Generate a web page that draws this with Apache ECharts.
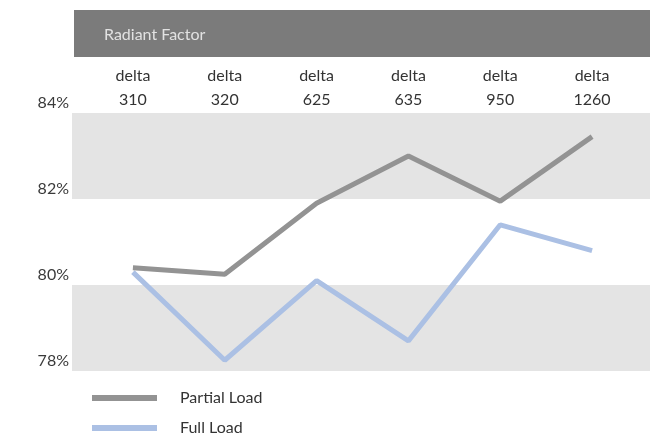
<!DOCTYPE html>
<html>
<head>
<meta charset="utf-8">
<script src="https://cdn.jsdelivr.net/npm/echarts@6/dist/echarts.min.js"></script>
<style>
  html, body { margin: 0; padding: 0; background: #fff; }
  #chart { width: 671px; height: 441px; }
</style>
</head>
<body>
<div id="chart"></div>
<script>
// data
const categories = ['delta\n310', 'delta\n320', 'delta\n625', 'delta\n635', 'delta\n950', 'delta\n1260'];
const partialLoad = [80.4, 80.25, 81.9, 83.0, 81.95, 83.45];
const fullLoad = [80.3, 78.25, 80.1, 78.7, 81.4, 80.8];
const seriesNames = ['Partial Load', 'Full Load'];

const FONT = 'Lato, "DejaVu Sans", sans-serif';

const chart = echarts.init(document.getElementById('chart'));

const option = {
    backgroundColor: '#fff',
    animation: false,
    graphic: [
        {
            type: 'rect',
            shape: { x: 74, y: 10, width: 576, height: 47 },
            style: { fill: '#7b7b7b' },
            z: 0
        }
    ],
    title: {
        text: 'Radiant Factor',
        left: 99,
        top: 22,
        textStyle: { color: '#e2e2e2', fontSize: 16, fontWeight: 'normal', fontFamily: FONT }
    },
    grid: [
        // background bands
        { left: 72, right: 21, top: 113, bottom: 70 },
        // lines
        { left: 87, right: 33, top: 113, bottom: 70 }
    ],
    xAxis: [
        { gridIndex: 0, type: 'value', show: false, min: 0, max: 1 },
        {
            gridIndex: 1,
            type: 'category',
            data: categories,
            position: 'top',
            boundaryGap: true,
            axisLine: { show: false },
            axisTick: { show: false },
            axisLabel: {
                color: '#333',
                fontSize: 16,
                fontFamily: FONT,
                lineHeight: 24,
                margin: 1
            }
        }
    ],
    yAxis: [
        {
            gridIndex: 0,
            type: 'value',
            min: 78,
            max: 84,
            interval: 2,
            axisLine: { show: false },
            axisTick: { show: false },
            splitLine: { show: false },
            splitArea: { show: true, areaStyle: { color: ['#e4e4e4', '#ffffff'] } },
            axisLabel: {
                formatter: '{value}%',
                color: '#3a3a3a',
                fontSize: 16,
                fontFamily: FONT,
                verticalAlign: 'bottom',
                padding: [0, 0, 2, 0],
                margin: 3
            }
        },
        {
            gridIndex: 1,
            type: 'value',
            min: 78,
            max: 84,
            interval: 2,
            show: false
        }
    ],
    legend: {
        orient: 'vertical',
        left: 87,
        top: 385,
        itemWidth: 65,
        itemHeight: 6,
        itemGap: 14,
        icon: 'rect',
        textStyle: { color: '#333', fontSize: 16, fontFamily: FONT, padding: [0, 0, 0, 18] },
        data: seriesNames
    },
    series: [
        {
            name: seriesNames[0],
            type: 'line',
            xAxisIndex: 1,
            yAxisIndex: 1,
            data: partialLoad,
            showSymbol: false,
            symbol: 'none',
            color: '#939393',
            lineStyle: { width: 5, color: '#939393' },
            z: 3
        },
        {
            name: seriesNames[1],
            type: 'line',
            xAxisIndex: 1,
            yAxisIndex: 1,
            data: fullLoad,
            showSymbol: false,
            symbol: 'none',
            color: '#abc0e4',
            lineStyle: { width: 5, color: '#abc0e4' },
            z: 2
        }
    ]
};

chart.setOption(option);
</script>
</body>
</html>
